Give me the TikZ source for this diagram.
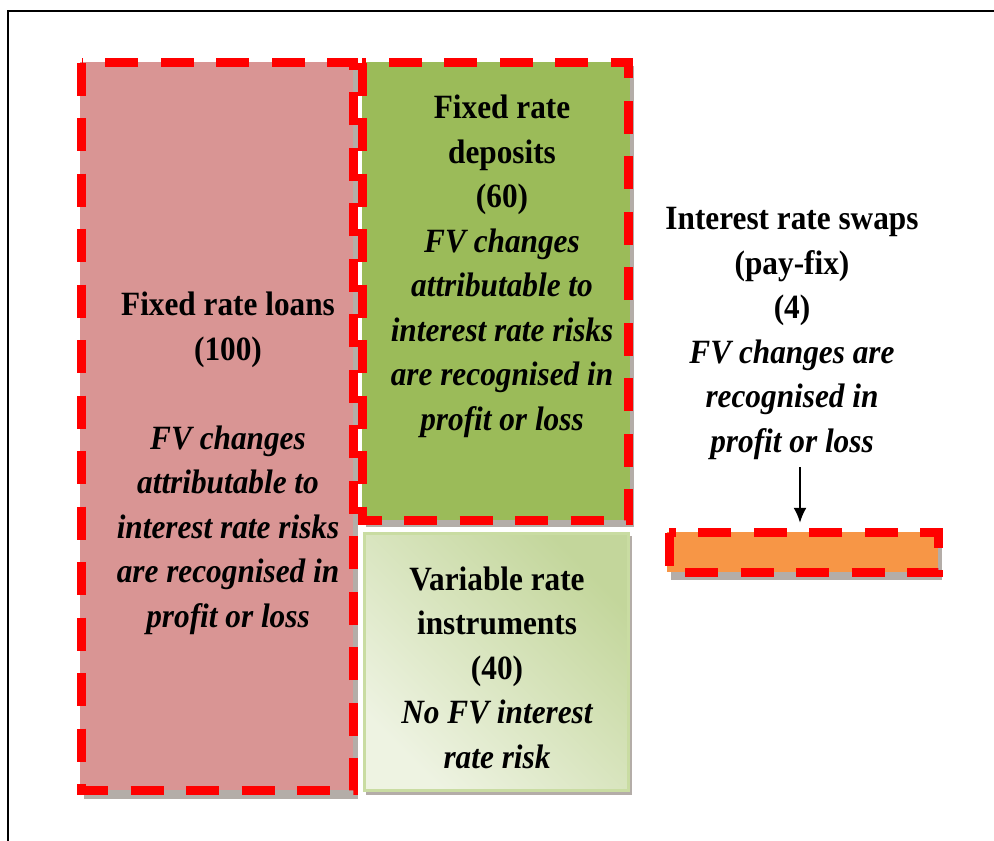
\documentclass[tikz,border=0pt]{standalone}
\usepackage{fontspec}
\setmainfont{Liberation Serif}[FakeStretch=0.92]
\usetikzlibrary{arrows.meta}
\definecolor{loanfill}{HTML}{D99594}
\definecolor{depofill}{HTML}{9BBB59}
\definecolor{swapfill}{HTML}{F79646}
\definecolor{varlight}{HTML}{EEF3E2}
\definecolor{vardark}{HTML}{C3D69B}
\definecolor{varedge}{HTML}{C9DCA2}
\definecolor{shadowgray}{HTML}{B4ADA8}
\begin{document}
\begin{tikzpicture}[x=1pt,y=-1pt,
  shadowbox/.style={fill=shadowgray,draw=none},
  reddash/.style={draw=red,line width=9pt,dash pattern=on 33pt off 22.5pt},
  txt/.style={align=center,inner sep=0pt,anchor=base,
    font=\fontsize{34}{44.5}\selectfont\bfseries},
  arr/.style={line width=2pt,-{Latex[length=15pt,width=13pt]}}]
\useasboundingbox (0,0) rectangle (994,841);

% outer frame
\draw[line width=2pt] (8,841) -- (8,10.5) -- (994,10.5);

% fixed rate loans
\path[shadowbox] (84,66) rectangle (358,799);
\path[fill=loanfill] (80,62) rectangle (353,790);
\path[reddash] (81.5,62.5) rectangle (353,790.5);

% fixed rate deposits
\path[shadowbox] (366,66) rectangle (634,527);
\path[fill=depofill] (362,62) rectangle (630,520);
\path[reddash] (362,62.5) rectangle (628,520);

% variable rate instruments
\path[shadowbox] (366,536) rectangle (632,795);
\path[draw=varedge,line width=3pt,top color=vardark,bottom color=varlight,
  shading angle=-45] (364.5,533.5) rectangle (628.5,790.5);

% interest rate swaps bar
\path[shadowbox] (671,536) rectangle (942,580);
\node[fill=swapfill,minimum width=271pt,minimum height=40pt,inner sep=0pt]
  (bar) at (802.5,552) {};
\path[reddash] (669,532.5) rectangle (938,572);

% labels (anchored at the baseline of the last line)
\node[txt] (loanstxt) at (228,627) {Fixed rate loans\\(100)\\[44.5pt]
  {\itshape FV changes}\\{\itshape attributable to}\\
  {\itshape interest rate risks}\\{\itshape are recognised in}\\
  {\itshape profit or loss}};
\node[txt] (depotxt) at (502,430) {Fixed rate\\deposits\\(60)\\
  {\itshape FV changes}\\{\itshape attributable to}\\
  {\itshape interest rate risks}\\{\itshape are recognised in}\\
  {\itshape profit or loss}};
\node[txt] (swaptxt) at (792,452) {Interest rate swaps\\(pay-fix)\\(4)\\
  {\itshape FV changes are}\\{\itshape recognised in}\\
  {\itshape profit or loss}};
\node[txt] (vartxt) at (497,768) {Variable rate\\instruments\\(40)\\
  {\itshape No FV interest}\\{\itshape rate risk}};

% arrow from the swap label down to the bar
\coordinate (arrtop) at (800,467);
\draw[arr,shorten >=9pt] (arrtop) -- (arrtop |- bar.north);
\end{tikzpicture}
\end{document}
